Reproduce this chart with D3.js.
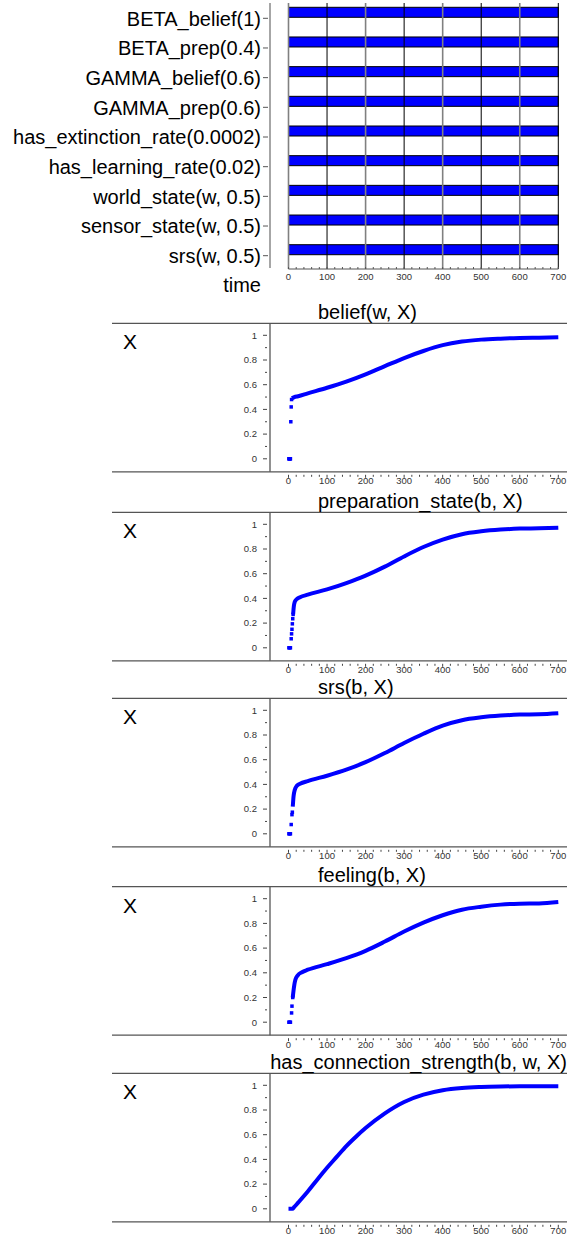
<!DOCTYPE html>
<html><head><meta charset="utf-8">
<script src="https://cdn.jsdelivr.net/npm/d3@7"></script>
<style>html,body{margin:0;padding:0;background:#fff;}svg{display:block;font-family:"Liberation Sans",Arial,sans-serif;}</style>
</head><body>
<script>
// ---------- data ----------
const barLabels = ["BETA_belief(1)","BETA_prep(0.4)","GAMMA_belief(0.6)","GAMMA_prep(0.6)",
  "has_extinction_rate(0.0002)","has_learning_rate(0.02)","world_state(w, 0.5)","sensor_state(w, 0.5)","srs(w, 0.5)"];
const barStart = [0,0,0,0,0,0,0,0,0];
const barEnd = [700,700,700,700,700,700,700,700,700];
const timeTicks = [0,100,200,300,400,500,600,700];
const valueTicks = [0,0.2,0.4,0.6,0.8,1];
const valueTickLabels = ["0","0.2","0.4","0.6","0.8","1"];
const panelTitles = ["belief(w, X)","preparation_state(b, X)","srs(b, X)","feeling(b, X)","has_connection_strength(b, w, X)"];

const beliefDots = [[1,0],[2,0],[3,0],[4,0],[5,0],[6,0.30],[7,0.42],[8,0.48]];
const beliefCurve = [[9,0.49],[15,0.50],[25,0.507],[50,0.53],[100,0.575],[150,0.625],[200,0.684],[250,0.75],[300,0.816],[350,0.873],[400,0.92],[450,0.949],[500,0.965],[550,0.973],[600,0.978],[650,0.981],[700,0.984]];

const prepDots = [[1,0],[3,0],[5,0],[7,0.073],[8,0.113],[9,0.15],[10,0.194],[11,0.235],[12,0.27]];
const prepCurve = [[12,0.27],[13,0.31],[14,0.34],[16,0.37],[20,0.39],[30,0.41],[50,0.43],[100,0.473],[150,0.524],[200,0.584],[250,0.657],[300,0.74],[350,0.816],[400,0.876],[450,0.92],[500,0.943],[550,0.957],[600,0.965],[650,0.968],[700,0.973]];

const srsDots = [[1,0],[3,0],[5,0],[7,0.075],[9,0.155],[10,0.175]];
const srsCurve = [[11,0.22],[12,0.26],[13,0.3],[15,0.34],[18,0.37],[22,0.39],[30,0.405],[50,0.427],[100,0.47],[150,0.519],[200,0.58],[250,0.654],[300,0.735],[350,0.81],[400,0.876],[450,0.92],[500,0.943],[550,0.957],[600,0.965],[650,0.968],[700,0.976]];

const feelingDots = [[1,0],[3,0],[5,0],[8,0.075],[9,0.13],[11,0.2]];
const feelingCurve = [[11,0.2],[13,0.255],[15,0.3],[18,0.345],[24,0.38],[35,0.405],[50,0.425],[100,0.47],[150,0.519],[200,0.578],[250,0.653],[300,0.734],[350,0.806],[400,0.866],[450,0.911],[500,0.935],[550,0.952],[600,0.96],[650,0.962],[700,0.973]];

const connDots = [];
const connCurve = [[0,0],[10,0],[15,0.015],[25,0.05],[50,0.14],[75,0.238],[100,0.332],[125,0.42],[150,0.508],[175,0.584],[200,0.654],[250,0.773],[300,0.865],[350,0.924],[400,0.96],[450,0.978],[500,0.986],[550,0.99],[600,0.992],[650,0.992],[700,0.992]];

// ---------- layout ----------
const W = 567, H = 1236;
const BLUE = "#0000ff";
const svg = d3.select("body").append("svg").attr("width", W).attr("height", H);

const x = d3.scaleLinear().domain([0,700]).range([288.5, 558.3]);
const rowY = d3.scalePoint().domain(barLabels).range([12.3, 249.7]);

// top section
const topG = svg.append("g");
topG.selectAll("rect.bar").data(barLabels).join("rect")
  .attr("x", (d,i)=>x(barStart[i])).attr("width",(d,i)=>x(barEnd[i])-x(barStart[i]))
  .attr("y", d=>rowY(d)-5).attr("height",10)
  .attr("fill",BLUE).attr("stroke","#000").attr("stroke-width",1);
topG.selectAll("line.grid").data(timeTicks).join("line")
  .attr("x1",d=>x(d)).attr("x2",d=>x(d)).attr("y1",3).attr("y2",269)
  .attr("stroke",(d,i)=> i%2===0 ? "#808080" : "#000")
  .attr("stroke-width",(d,i)=> i%2===0 ? 1.6 : 1);
topG.append("line").attr("x1",270).attr("x2",270).attr("y1",3).attr("y2",268).attr("stroke","#888").attr("stroke-width",1.5);
topG.selectAll("line.lt").data(barLabels).join("line")
  .attr("x1",263).attr("x2",268).attr("y1",d=>rowY(d)+6).attr("y2",d=>rowY(d)+6).attr("stroke","#555");
topG.selectAll("text.lab").data(barLabels).join("text")
  .attr("x",261).attr("y",d=>rowY(d)+6).attr("dy","0.36em").attr("text-anchor","end")
  .attr("font-size",20).attr("fill","#000").text(d=>d);
topG.append("text").attr("x",261).attr("y",285).attr("dy","0.36em").attr("text-anchor","end")
  .attr("font-size",20).text("time");
topG.append("line").attr("x1",x(0)).attr("x2",x(700)).attr("y1",269).attr("y2",269).attr("stroke","#555");
topG.selectAll("line.mt").data(d3.range(0,701,20)).join("line")
  .attr("x1",d=>x(d)).attr("x2",d=>x(d)).attr("y1",267).attr("y2",269).attr("stroke","#555");
topG.selectAll("text.tt").data(timeTicks).join("text")
  .attr("x",d=>x(d)).attr("y",277).attr("dy","0.35em").attr("text-anchor","middle")
  .attr("font-size",9.5).attr("fill","#333").text(d=>d);

// panels
const panelTops = [323.3, 512.3, 698.3, 886.7, 1073.3];
const panels = [
  {title:panelTitles[0], dots:beliefDots, curve:beliefCurve},
  {title:panelTitles[1], dots:prepDots, curve:prepCurve},
  {title:panelTitles[2], dots:srsDots, curve:srsCurve},
  {title:panelTitles[3], dots:feelingDots, curve:feelingCurve},
  {title:panelTitles[4], dots:connDots, curve:connCurve}
];

panels.forEach((p,i)=>{
  const t0 = panelTops[i];
  const bottom = t0 + 148.5;
  const y = d3.scaleLinear().domain([0,1]).range([t0+135.5, t0+12]);
  const g = svg.append("g");
  g.append("line").attr("x1",112).attr("x2",567).attr("y1",t0).attr("y2",t0).attr("stroke","#555").attr("stroke-width",1.3);
  g.append("line").attr("x1",112).attr("x2",567).attr("y1",bottom).attr("y2",bottom).attr("stroke","#555").attr("stroke-width",1.3);
  g.append("line").attr("x1",270).attr("x2",270).attr("y1",t0).attr("y2",bottom).attr("stroke","#555").attr("stroke-width",1.3);
  const title = g.append("text").attr("y",t0-4.5).attr("font-size",20).attr("fill","#000").text(p.title);
  const tw = title.node().getComputedTextLength();
  title.attr("x", Math.min(318, W - tw));
  g.append("text").attr("x",123).attr("y",t0+26).attr("font-size",21).text("X");
  // y ticks
  g.selectAll("line.ymaj").data(valueTicks).join("line")
    .attr("x1",263).attr("x2",267).attr("y1",d=>y(d)).attr("y2",d=>y(d)).attr("stroke","#444");
  g.selectAll("line.ymin").data([0.1,0.3,0.5,0.7,0.9]).join("line")
    .attr("x1",265).attr("x2",267).attr("y1",d=>y(d)).attr("y2",d=>y(d)).attr("stroke","#444");
  g.selectAll("text.yl").data(valueTicks).join("text")
    .attr("x",257).attr("y",d=>y(d)).attr("dy","0.35em").attr("text-anchor","end")
    .attr("font-size",9.5).attr("fill","#333").text((d,k)=>valueTickLabels[k]);
  // x ticks
  g.selectAll("line.xm").data(d3.range(0,701,20)).join("line")
    .attr("x1",d=>x(d)).attr("x2",d=>x(d)).attr("y1",bottom+3).attr("y2",d=> d%100===0 ? bottom+6 : bottom+5).attr("stroke","#444");
  g.selectAll("text.xl").data(timeTicks).join("text")
    .attr("x",d=>x(d)).attr("y",t0+157.5).attr("dy","0.35em").attr("text-anchor","middle")
    .attr("font-size",9.5).attr("fill","#333").text(d=>d);
  // series
  const line = d3.line().x(d=>x(d[0])).y(d=>y(d[1])).curve(d3.curveMonotoneX);
  g.append("path").datum(p.curve).attr("d",line).attr("fill","none").attr("stroke",BLUE).attr("stroke-width",4);
  g.selectAll("rect.dot").data(p.dots).join("rect")
    .attr("x",d=>x(d[0])-1.75).attr("y",d=>y(d[1])-1.75).attr("width",3.5).attr("height",3.5).attr("fill",BLUE);
});
</script>
</body></html>
